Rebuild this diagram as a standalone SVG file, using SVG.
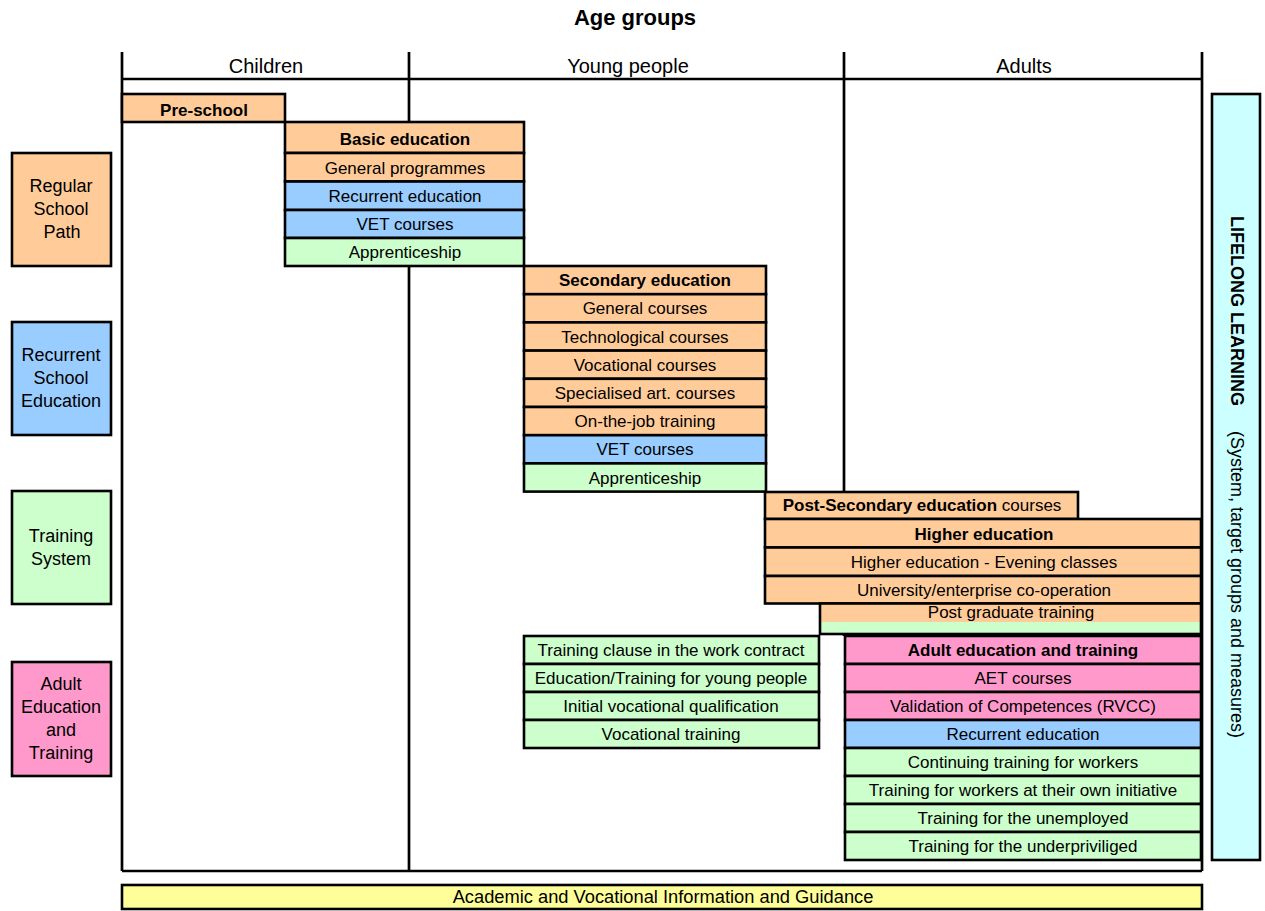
<svg xmlns="http://www.w3.org/2000/svg" width="1265" height="911" viewBox="0 0 1265 911">
<style>
.t{font-family:"Liberation Sans",Arial,sans-serif;font-size:17px;text-anchor:middle;fill:#000}
.l{font-size:18px}
.h{font-size:20px}
.b{font-weight:bold}
.bx{stroke:#000;stroke-width:2.6}
.fr{stroke:#000;stroke-width:2.7;fill:none}
.pe{fill:#FFCC99}.bl{fill:#99CCFF}.gr{fill:#CCFFCC}.pk{fill:#FF99CC}.cy{fill:#CCFFFF}.ye{fill:#FFFF99}
</style>
<rect width="1265" height="911" fill="#fff"/>
<text class="t b" x="635" y="25" style="font-size:22px">Age groups</text>
<g id="frame">
<line class="fr" x1="122" y1="52" x2="122" y2="871"/>
<line class="fr" x1="409" y1="52" x2="409" y2="871"/>
<line class="fr" x1="844" y1="52" x2="844" y2="636"/>
<line class="fr" x1="1202" y1="52" x2="1202" y2="871"/>
<line class="fr" x1="122" y1="79" x2="1202" y2="79"/>
<line class="fr" x1="122" y1="871" x2="1202" y2="871"/>
</g>
<g id="headers">
<text class="t h" x="266" y="73">Children</text>
<text class="t h" x="628" y="73">Young people</text>
<text class="t h" x="1024" y="73">Adults</text>
</g>
<g id="legend-regular">
<rect class="bx pe" x="12" y="153" width="99" height="113"/>
<text class="t l" x="61" y="192">Regular</text>
<text class="t l" x="61" y="215">School</text>
<text class="t l" x="62" y="238">Path</text>
</g>
<g id="legend-recurrent">
<rect class="bx bl" x="12" y="322" width="99" height="113"/>
<text class="t l" x="61" y="361">Recurrent</text>
<text class="t l" x="61" y="384">School</text>
<text class="t l" x="61" y="407">Education</text>
</g>
<g id="legend-training">
<rect class="bx gr" x="12" y="491" width="99" height="113"/>
<text class="t l" x="61" y="542">Training</text>
<text class="t l" x="61" y="565">System</text>
</g>
<g id="legend-adult">
<rect class="bx pk" x="12" y="662" width="99" height="114"/>
<text class="t l" x="61" y="690">Adult</text>
<text class="t l" x="61" y="713">Education</text>
<text class="t l" x="61" y="736">and</text>
<text class="t l" x="61" y="759">Training</text>
</g>
<g id="preschool">
<rect class="bx pe" x="122" y="94" width="163" height="28"/>
<text class="t b" x="204" y="116">Pre-school</text>
</g>
<g id="basic">
<rect class="bx pe" x="285" y="122" width="239" height="31"/>
<text class="t b" x="405" y="145">Basic education</text>
<rect class="bx pe" x="285" y="153" width="239" height="28.5"/>
<text class="t" x="405" y="174">General programmes</text>
<rect class="bx bl" x="285" y="181.5" width="239" height="28.5"/>
<text class="t" x="405" y="202">Recurrent education</text>
<rect class="bx bl" x="285" y="210" width="239" height="28"/>
<text class="t" x="405" y="230">VET courses</text>
<rect class="bx gr" x="285" y="238" width="239" height="28"/>
<text class="t" x="405" y="258">Apprenticeship</text>
</g>
<g id="secondary">
<rect class="bx pe" x="524" y="266" width="242" height="28.2"/>
<text class="t b" x="645" y="286">Secondary education</text>
<rect class="bx pe" x="524" y="294.2" width="242" height="28.2"/>
<text class="t" x="645" y="314.3">General courses</text>
<rect class="bx pe" x="524" y="322.4" width="242" height="28.2"/>
<text class="t" x="645" y="342.5">Technological courses</text>
<rect class="bx pe" x="524" y="350.6" width="242" height="28.2"/>
<text class="t" x="645" y="370.7">Vocational courses</text>
<rect class="bx pe" x="524" y="378.8" width="242" height="28.2"/>
<text class="t" x="645" y="398.9">Specialised art. courses</text>
<rect class="bx pe" x="524" y="407" width="242" height="28.2"/>
<text class="t" x="645" y="427.1">On-the-job training</text>
<rect class="bx bl" x="524" y="435.2" width="242" height="28.2"/>
<text class="t" x="645" y="455.3">VET courses</text>
<rect class="bx gr" x="524" y="463.4" width="242" height="28.2"/>
<text class="t" x="645" y="483.5">Apprenticeship</text>
</g>
<g id="postsecondary">
<rect class="bx pe" x="765" y="492" width="313" height="27"/>
<text class="t" x="922" y="511"><tspan class="b">Post-Secondary education</tspan> courses</text>
</g>
<g id="higher">
<rect class="bx pe" x="765" y="519" width="436" height="28.5"/>
<text class="t b" x="984" y="539.5">Higher education</text>
<rect class="bx pe" x="765" y="547.5" width="436" height="28.5"/>
<text class="t" x="984" y="568">Higher education - Evening classes</text>
<rect class="bx pe" x="765" y="576" width="436" height="27.5"/>
<text class="t" x="984" y="596">University/enterprise co-operation</text>
</g>
<g id="postgraduate">
<rect class="pe" x="820" y="603.5" width="381" height="18.5"/>
<rect class="gr" x="820" y="622" width="381" height="12"/>
<rect class="bx" fill="none" x="820" y="603.5" width="381" height="30.5"/>
<text class="t" x="1011" y="618">Post graduate training</text>
</g>
<g id="young-training">
<rect class="bx gr" x="524" y="636" width="295" height="28"/>
<text class="t" x="671" y="656">Training clause in the work contract</text>
<rect class="bx gr" x="524" y="664" width="295" height="28"/>
<text class="t" x="671" y="684">Education/Training for young people</text>
<rect class="bx gr" x="524" y="692" width="295" height="28"/>
<text class="t" x="671" y="712">Initial vocational qualification</text>
<rect class="bx gr" x="524" y="720" width="295" height="28"/>
<text class="t" x="671" y="740">Vocational training</text>
</g>
<g id="adult">
<rect class="bx pk" x="845" y="636" width="356" height="28"/>
<text class="t b" x="1023" y="656">Adult education and training</text>
<rect class="bx pk" x="845" y="664" width="356" height="28"/>
<text class="t" x="1023" y="684">AET courses</text>
<rect class="bx pk" x="845" y="692" width="356" height="28"/>
<text class="t" x="1023" y="712">Validation of Competences (RVCC)</text>
<rect class="bx bl" x="845" y="720" width="356" height="28"/>
<text class="t" x="1023" y="740">Recurrent education</text>
<rect class="bx gr" x="845" y="748" width="356" height="28"/>
<text class="t" x="1023" y="768">Continuing training for workers</text>
<rect class="bx gr" x="845" y="776" width="356" height="28"/>
<text class="t" x="1023" y="796">Training for workers at their own initiative</text>
<rect class="bx gr" x="845" y="804" width="356" height="28"/>
<text class="t" x="1023" y="824">Training for the unemployed</text>
<rect class="bx gr" x="845" y="832" width="356" height="28"/>
<text class="t" x="1023" y="852">Training for the underpriviliged</text>
</g>
<g id="lifelong">
<rect class="bx cy" x="1212" y="94" width="48" height="766"/>
<text class="t l" x="1231" y="477" transform="rotate(90 1231 477)"><tspan class="b">LIFELONG LEARNING</tspan><tspan dx="25">(System, target groups and measures)</tspan></text>
</g>
<g id="guidance">
<rect class="bx ye" x="122" y="885" width="1080" height="24"/>
<text class="t" x="663" y="903" style="font-size:18.3px">Academic and Vocational Information and Guidance</text>
</g>
</svg>
